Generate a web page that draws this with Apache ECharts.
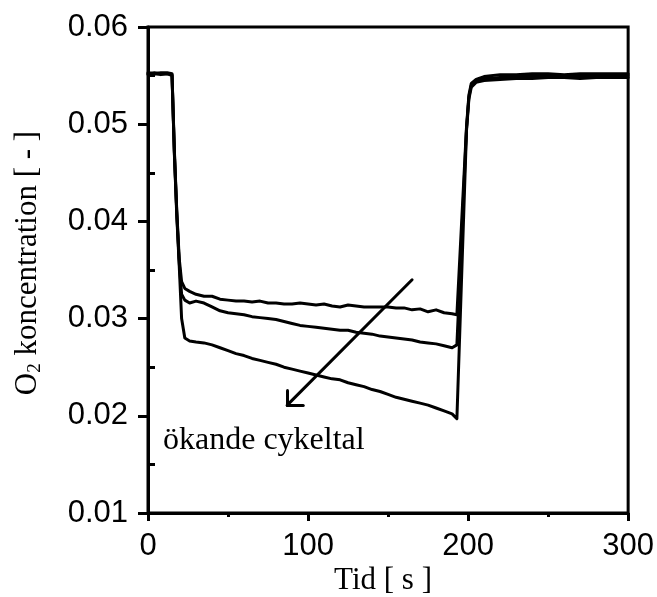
<!DOCTYPE html>
<html>
<head>
<meta charset="utf-8">
<script src="https://cdn.jsdelivr.net/npm/echarts@6/dist/echarts.min.js"></script>
<style>
  html, body { margin: 0; padding: 0; background: #fff; }
  #chart { width: 657px; height: 597px; }
</style>
</head>
<body>
<div id="chart"></div>
<script>
// Sampling times [s]
const timeS = [0, 4, 8, 12, 15, 16.5, 18, 19.5, 21, 23, 26, 30, 35, 40, 45, 50, 55, 60, 65, 70,
  75, 80, 85, 90, 95, 100, 105, 110, 115, 120, 125, 130, 135, 140, 145, 150, 155, 160, 165, 170,
  175, 180, 185, 190, 193, 199, 200.5, 202, 205, 210, 220, 230, 240, 250, 260, 270, 280, 290, 300];

// O2 concentration, one array per cycle (first, middle, last)
const o2Cycle1 = [0.0553, 0.0552, 0.0553, 0.0553, 0.0552, 0.0472, 0.0410, 0.0362, 0.0338, 0.0331,
  0.0328, 0.0325, 0.0323, 0.0323, 0.0320, 0.0319, 0.0318, 0.0318, 0.0317, 0.0318,
  0.0316, 0.0316, 0.0315, 0.0315, 0.0316, 0.0315, 0.0314, 0.0315, 0.0313, 0.0312,
  0.0314, 0.0313, 0.0312, 0.0312, 0.0312, 0.0312, 0.0311, 0.0311, 0.0309, 0.0310,
  0.0307, 0.0309, 0.0306, 0.0305, 0.0304, 0.0497, 0.0530, 0.0542, 0.0546, 0.0549,
  0.0551, 0.0551, 0.0552, 0.0552, 0.0551, 0.0552, 0.0552, 0.0552, 0.0552];

const o2Cycle2 = [0.0552, 0.0553, 0.0552, 0.0552, 0.0551, 0.0470, 0.0408, 0.0358, 0.0325, 0.0319,
  0.0316, 0.0318, 0.0316, 0.0312, 0.0308, 0.0306, 0.0305, 0.0304, 0.0302, 0.0301,
  0.0300, 0.0299, 0.0297, 0.0295, 0.0293, 0.0292, 0.0291, 0.0290, 0.0289, 0.0288,
  0.0288, 0.0286, 0.0285, 0.0284, 0.0282, 0.0281, 0.0280, 0.0279, 0.0278, 0.0276,
  0.0275, 0.0274, 0.0272, 0.0270, 0.0273, 0.0495, 0.0528, 0.0540, 0.0544, 0.0547,
  0.0548, 0.0549, 0.0549, 0.0550, 0.0550, 0.0549, 0.0550, 0.0550, 0.0550];

const o2Cycle3 = [0.0551, 0.0552, 0.0551, 0.0552, 0.0550, 0.0468, 0.0405, 0.0355, 0.0300, 0.0280,
  0.0277, 0.0276, 0.0275, 0.0273, 0.0270, 0.0267, 0.0264, 0.0262, 0.0259, 0.0257,
  0.0255, 0.0253, 0.0250, 0.0248, 0.0246, 0.0244, 0.0242, 0.0240, 0.0238, 0.0237,
  0.0234, 0.0232, 0.0230, 0.0227, 0.0225, 0.0222, 0.0219, 0.0217, 0.0215, 0.0213,
  0.0211, 0.0208, 0.0205, 0.0202, 0.0197, 0.0493, 0.0526, 0.0538, 0.0543, 0.0545,
  0.0546, 0.0547, 0.0547, 0.0548, 0.0548, 0.0547, 0.0548, 0.0548, 0.0548];

// Arrow "ökande cykeltal": shaft tail -> tip, plus the two arms of the open head
const arrowTail = [165, 0.0340];
const arrowTip = [87, 0.0211];
const arrowArmUp = [87, 0.0226];
const arrowArmRight = [97, 0.0211];

// Axis ticks
const xTicks = { min: 0, max: 300, step: 100 };
const yTicks = { min: 0.01, max: 0.06, step: 0.01 };

const zip = (t, v) => t.map((x, i) => [x, v[i]]);

const serifFont = '"Liberation Serif", "Times New Roman", serif';
const sansFont = '"Liberation Sans", Arial, sans-serif';

const lineStyle = { color: '#000', width: 3, cap: 'round', join: 'round' };

const chart = echarts.init(document.getElementById('chart'), null, { renderer: 'canvas' });

chart.setOption({
  animation: false,
  backgroundColor: '#fff',
  grid: {
    left: 148, right: 27, top: 27, bottom: 84,
    show: true, borderColor: '#000', borderWidth: 3, backgroundColor: 'transparent'
  },
  xAxis: {
    type: 'value', min: xTicks.min, max: xTicks.max, interval: xTicks.step,
    axisLine: { lineStyle: { color: '#000', width: 3 } },
    axisTick: { show: true, length: 8, lineStyle: { color: '#000', width: 3 } },
    minorTick: { show: true, splitNumber: 2, length: 4, lineStyle: { color: '#000', width: 3 } },
    splitLine: { show: false },
    axisLabel: { color: '#000', fontFamily: sansFont, fontSize: 31, margin: 18 }
  },
  yAxis: [{
    type: 'value', min: yTicks.min, max: yTicks.max, interval: yTicks.step,
    axisLine: { show: true, lineStyle: { color: '#000', width: 3 } },
    axisTick: { show: true, length: 10, lineStyle: { color: '#000', width: 3 } },
    splitLine: { show: false },
    axisLabel: { color: '#000', fontFamily: sansFont, fontSize: 31, margin: 20,
      formatter: v => v.toFixed(2) }
  }, {
    // inner minor ticks on the left axis
    type: 'value', position: 'left', min: yTicks.min, max: yTicks.max, interval: yTicks.step,
    axisLine: { show: false },
    axisTick: { show: false, inside: true },
    minorTick: { show: true, splitNumber: 2, length: 7, lineStyle: { color: '#000', width: 3 } },
    splitLine: { show: false },
    axisLabel: { show: false }
  }],
  series: [
    { type: 'line', data: zip(timeS, o2Cycle1), showSymbol: false, lineStyle, silent: true,
      markLine: {
        silent: true, symbol: 'none', label: { show: false },
        lineStyle: { color: '#000', width: 3, type: 'solid', cap: 'round' },
        data: [
          [{ coord: arrowTail }, { coord: arrowTip }],
          [{ coord: arrowTip }, { coord: arrowArmUp }],
          [{ coord: arrowTip }, { coord: arrowArmRight }]
        ]
      } },
    { type: 'line', data: zip(timeS, o2Cycle2), showSymbol: false, lineStyle, silent: true },
    { type: 'line', data: zip(timeS, o2Cycle3), showSymbol: false, lineStyle, silent: true }
  ],
  graphic: [
    { type: 'text', x: 163, y: 441, style: {
        text: 'ökande cykeltal', fill: '#000', font: '32px ' + serifFont,
        verticalAlign: 'middle' } },
    { type: 'text', x: 383, y: 581, style: {
        text: 'Tid [ s ]', fill: '#000', font: '31px ' + serifFont,
        align: 'center', verticalAlign: 'middle' } },
    { type: 'text', x: 28, y: 263, rotation: Math.PI / 2, style: {
        text: '{m|O}{s|2}{m| koncentration [ - ]}',
        align: 'center', verticalAlign: 'middle',
        rich: {
          m: { fontFamily: serifFont, fontSize: 31, lineHeight: 34, fill: '#000', color: '#000' },
          s: { fontFamily: serifFont, fontSize: 19, lineHeight: 19, verticalAlign: 'bottom',
               fill: '#000', color: '#000' }
        } } }
  ]
});
</script>
</body>
</html>
